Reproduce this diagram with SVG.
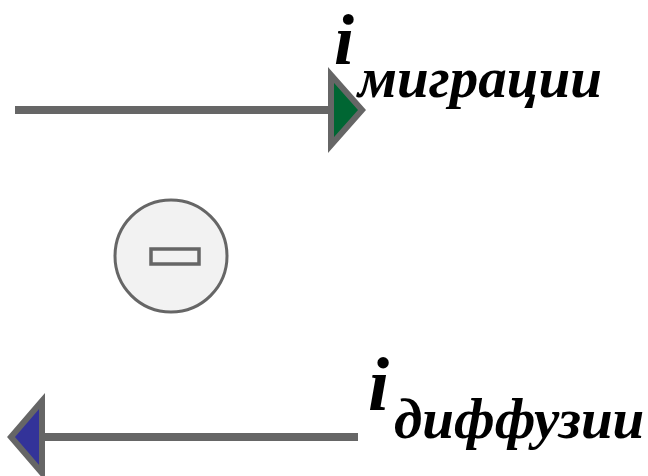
<svg xmlns="http://www.w3.org/2000/svg" width="648" height="476" viewBox="0 0 648 476">
<style>
.ln{stroke:#666666;stroke-width:8;fill:none}
.hd{stroke:#666666;stroke-width:6;stroke-linejoin:miter}
.big{font-family:"Liberation Serif",serif;font-weight:bold;font-style:italic;font-size:76px;fill:#000}
.sub{font-family:"Liberation Serif",serif;font-weight:bold;font-style:italic;font-size:57px;fill:#000}
</style>
<g id="connectors">
<g id="migration-arrow">
<line class="ln" x1="15" y1="110" x2="333" y2="110"/>
<polygon class="hd" fill="#006633" points="331,75 362,110 331,145"/>
</g>
<g id="diffusion-arrow">
<line class="ln" x1="40" y1="437" x2="358" y2="437"/>
<polygon class="hd" fill="#333399" points="42,401 11,437 42,473"/>
</g>
</g>
<g id="ion">
<circle cx="171" cy="256" r="56" fill="#f2f2f2" stroke="#666666" stroke-width="3"/>
<rect x="151" y="249" width="48" height="15" fill="#f2f2f2" stroke="#666666" stroke-width="3.5"/>
</g>
<g id="label-migration">
<text class="big" x="334" y="64" style="font-size:72px">i</text>
<text class="sub" x="358" y="97">миграции</text>
</g>
<g id="label-diffusion">
<text class="big" x="368" y="410">i</text>
<text class="sub" x="394" y="438">диффузии</text>
</g>
</svg>
